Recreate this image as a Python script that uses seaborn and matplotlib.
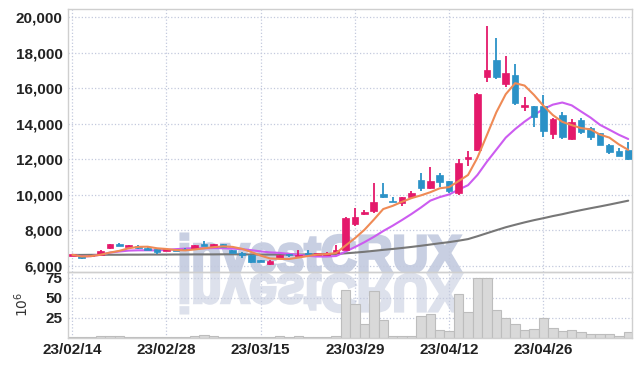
import numpy as np
import pandas as pd
import matplotlib
matplotlib.use("Agg")
import matplotlib.pyplot as plt
import seaborn as sns
from matplotlib.textpath import TextPath
from matplotlib.patches import PathPatch
from matplotlib.font_manager import FontProperties
from matplotlib.transforms import Affine2D

# trading days (KRX holidays skipped)
dates = pd.bdate_range("2023-02-14", periods=60, freq="C",
                       holidays=["2023-03-01", "2023-05-01", "2023-05-05"])

opens = [6580, 6560, 6560, 6620, 6990, 7240, 7060, 7120, 7030, 6950,
         6860, 6920, 6980, 6970, 7240, 7050, 7240, 6900, 6730, 6620,
         6340, 6110, 6430, 6660, 6560, 6750, 6620, 6620, 6710, 6900,
         8360, 8920, 9090, 10050, 9650, 9520, 9890, 10830, 10380, 11110,
         10790, 10120, 12030, 12520, 16640, 17580, 16230, 16730, 14950, 14990,
         14990, 13420, 14490, 13120, 14200, 13740, 13460, 12800, 12480, 12520]
highs = [6660, 6580, 6640, 6920, 7260, 7300, 7200, 7150, 7050, 6960,
         6940, 6960, 7000, 7180, 7380, 7260, 7260, 6920, 6800, 6640,
         6360, 6330, 6640, 6680, 6880, 6880, 6730, 6770, 7180, 8760,
         9250, 9120, 10680, 10650, 9880, 9900, 10230, 11250, 11550, 11200,
         10800, 12000, 12480, 15700, 19480, 18800, 17800, 17350, 15480, 15000,
         15610, 14300, 14670, 14240, 14300, 13800, 13500, 12850, 12610, 12990]
lows = [6560, 6400, 6540, 6600, 6950, 7100, 7040, 6980, 6880, 6700,
        6840, 6840, 6880, 6950, 7100, 7030, 7070, 6730, 6460, 6190,
        6200, 6060, 6410, 6520, 6540, 6640, 6600, 6600, 6690, 6880,
        8270, 8870, 8980, 9800, 9580, 9370, 9870, 10220, 10350, 10450,
        10090, 9970, 11620, 12450, 16360, 16490, 16080, 15050, 14730, 13830,
        13270, 13120, 13120, 13100, 13420, 13100, 12780, 12290, 12170, 11950]
closes = [6630, 6430, 6600, 6860, 7240, 7120, 7160, 6990, 6900, 6800,
          6920, 6860, 6900, 7160, 7120, 7240, 7090, 6750, 6630, 6210,
          6220, 6300, 6620, 6600, 6610, 6660, 6710, 6750, 6900, 8710,
          8740, 9050, 9600, 9900, 9600, 9890, 10080, 10370, 10790, 10700,
          10230, 11770, 12080, 15670, 17020, 16640, 16870, 15180, 15000, 14390,
          13590, 14260, 13270, 14080, 13550, 13230, 12800, 12420, 12180, 12000]
# volume, millions of shares
volumes = [0.6, 0.5, 0.7, 1.5, 2.2, 1.3, 1.2, 0.6, 0.5, 0.5,
           0.4, 0.5, 1.2, 1.6, 2.6, 1.4, 1.1, 0.7, 0.6, 1.0,
           0.8, 1.2, 1.5, 0.8, 1.4, 0.6, 0.5, 0.6, 2.5, 59,
           42.5, 16.5, 58, 22.5, 2.5, 2.5, 2.5, 26.5, 29, 9,
           8, 54, 31.5, 74, 74, 35, 25, 16.5, 9, 11,
           24, 12.5, 8, 10, 6.5, 4, 4, 4, 2.5, 6.5]
# 60-day moving average (needs history before the window)
ma60 = [6620, 6620, 6625, 6625, 6630, 6630, 6635, 6635, 6640, 6640,
        6640, 6645, 6645, 6650, 6650, 6650, 6655, 6655, 6650, 6645,
        6640, 6640, 6640, 6645, 6645, 6650, 6655, 6660, 6670, 6710,
        6750, 6795, 6850, 6905, 6955, 7010, 7070, 7135, 7205, 7275,
        7340, 7420, 7510, 7670, 7840, 8010, 8175, 8315, 8450, 8575,
        8685, 8805, 8910, 9030, 9140, 9245, 9345, 9450, 9560, 9670]

PINK = "#e4196b"
BLUE = "#2b92c7"

sns.set_theme(style="white")
plt.rcParams["font.family"] = ["Liberation Sans Narrow", "Liberation Sans", "DejaVu Sans"]

fig = plt.figure(figsize=(6.42, 3.66), dpi=100, facecolor="white")
ax = fig.add_axes([68 / 642, 1 - 272 / 366, 564 / 642, 262.7 / 366])
ax2 = fig.add_axes([68 / 642, 1 - 337.5 / 366, 564 / 642, 65.5 / 366], sharex=ax)

x = np.arange(len(closes))
o = np.array(opens)
c = np.array(closes)
col = np.where(c >= o, PINK, BLUE)

# moving averages
s = pd.Series(closes)
ma5 = s.rolling(5, min_periods=1).mean()
ma10 = s.rolling(10, min_periods=1).mean()
sns.lineplot(x=x, y=ma60, ax=ax, color="#777777", lw=1.5, zorder=2)
sns.lineplot(x=x, y=ma10, ax=ax, color="#cc5cf0", lw=1.5, zorder=2)
sns.lineplot(x=x, y=ma5, ax=ax, color="#ef8a55", lw=1.5, zorder=5)

# candles
ax.vlines(x, lows, highs, colors=col, lw=1.3, zorder=3)
body_lo = np.minimum(o, c)
body_h = np.maximum(np.abs(c - o), 80)
ax.bar(x, body_h, bottom=body_lo, width=0.7, color=col,
       edgecolor=col, linewidth=0.5, zorder=4)

# volume
ax2.bar(x, volumes, width=1.0, color="#d9d9d9", edgecolor="#bdbdbd",
        linewidth=0.8, zorder=2)

ax.set_xlim(-0.45, 59.4)
ax.set_ylim(5660, 20430)
ax2.set_ylim(0, 82)

ax.set_yticks(range(6000, 20001, 2000))
ax.set_yticklabels([f"{v:,}" for v in range(6000, 20001, 2000)])
ax2.set_yticks([25, 50, 75])
tick_idx = list(range(0, 60, 10))
ax2.set_xticks(tick_idx)
ax2.set_xticklabels([dates[i].strftime("%y/%m/%d") for i in tick_idx])
ax.tick_params(axis="x", labelbottom=False)
ax.set_ylabel("")

for a in (ax, ax2):
    a.set_facecolor("none")
    a.grid(True, ls=":", color="#c3c9dd", lw=0.9)
    a.set_axisbelow(True)
    a.tick_params(length=0, pad=4, labelsize=11, colors="#222222")
    for lab in a.get_xticklabels() + a.get_yticklabels():
        lab.set_fontweight("bold")
    for sp in a.spines.values():
        sp.set_color("#cfcfcf")
        sp.set_linewidth(1.0)
    a.set_xlabel("")

ax2.set_ylabel(r"$10^6$", fontsize=10, color="#333333")
ax2.yaxis.set_label_coords(-0.066, 0.5)

# watermark with reflection
fp = FontProperties(family="Liberation Sans", weight="bold")
tp = TextPath((0, 0), "investCRUX", size=100, prop=fp)
bb = tp.get_extents()
x0, x1 = 181, 461
base, top = 366 - 272, 366 - 234
sx = (x1 - x0) / bb.width
sy = (top - base) / bb.y1
tr = Affine2D().translate(-bb.x0, 0).scale(sx / 642, sy / 366).translate(x0 / 642, base / 366)
fig.add_artist(PathPatch(tr.transform_path(tp), facecolor="#c8cfe2", edgecolor="#c8cfe2",
                         linewidth=2.2, transform=fig.transFigure, zorder=-2))
tr2 = Affine2D().translate(-bb.x0, 0).scale(sx / 642, -sy / 366).translate(x0 / 642, (base - 3) / 366)
fig.add_artist(PathPatch(tr2.transform_path(tp), facecolor="#dde1ec", edgecolor="#dde1ec",
                         linewidth=2.2, transform=fig.transFigure, zorder=-2))

fig.savefig("out.png", dpi=100, facecolor="white")
